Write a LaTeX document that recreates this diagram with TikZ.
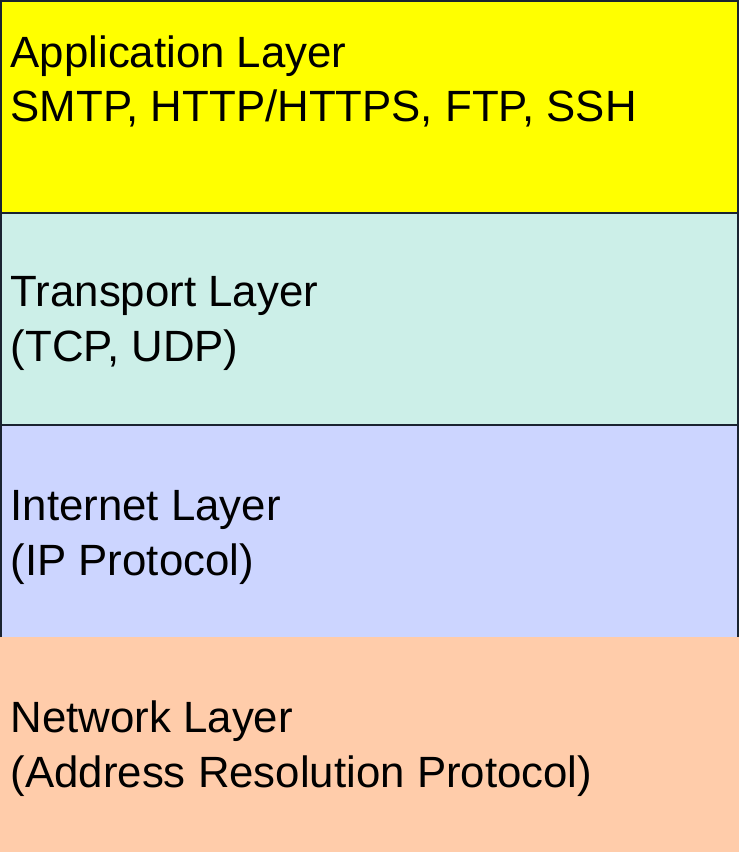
\documentclass[tikz,border=0pt]{standalone}
\usepackage{fontspec}
\setmainfont{Liberation Sans}
\definecolor{appfill}{HTML}{FFFF00}
\definecolor{transfill}{HTML}{CCEFE8}
\definecolor{netfill}{HTML}{CCD5FF}
\definecolor{linkfill}{HTML}{FFCCAA}
\definecolor{edge}{HTML}{1A2330}
\begin{document}
\begin{tikzpicture}[x=0.01cm, y=-0.01cm,
	layertext/.style={anchor=base west, inner sep=0pt, align=left, font=\fontsize{12.45}{15.6}\selectfont}]
	\useasboundingbox (0,0) rectangle (739,852);
	%% layer bands
	\fill[appfill] (0,0) rectangle (739,213);
	\fill[transfill] (0,213) rectangle (739,425);
	\fill[netfill] (0,425) rectangle (739,637);
	\fill[linkfill] (0,637) rectangle (739,852);
	%% frame round the upper three
	\draw[edge, line width=0.6pt] (1,637) -- (1,1) -- (738,1) -- (738,637);
	\draw[edge, line width=0.6pt] (0,213) -- (739,213);
	\draw[edge, line width=0.6pt] (0,425) -- (739,425);
	%% labels (base = last line)
	\node[layertext] (app) at (10,122) {Application Layer\\SMTP, HTTP/HTTPS, FTP, SSH};
	\node[layertext] (trans) at (10,361) {Transport Layer\\(TCP, UDP)};
	\node[layertext] (inet) at (10,575) {Internet Layer\\(IP Protocol)};
	\node[layertext] (link) at (10,787) {Network Layer\\(Address Resolution Protocol)};
\end{tikzpicture}
\end{document}
